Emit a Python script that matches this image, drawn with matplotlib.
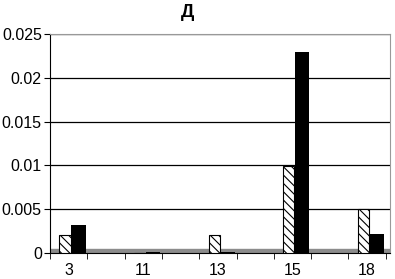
import matplotlib.pyplot as plt
import numpy as np

plt.rcParams['font.family'] = ['Liberation Sans', 'DejaVu Sans']
plt.rcParams['hatch.linewidth'] = 0.8

categories = ['3', '11', '13', '15', '18']
series_hatched = [0.0021, 0.0, 0.0021, 0.0099, 0.0050]
series_black = [0.0032, 0.0001, 0.0001, 0.0230, 0.0022]
y_ticks = [0, 0.005, 0.01, 0.015, 0.02, 0.025]
y_labels = ['0', '0.005', '0.01', '0.015', '0.02', '0.025']

fig = plt.figure(figsize=(3.95, 2.79), dpi=100)
ax = fig.add_axes([0.127, 0.093, 0.86, 0.785])

x = np.arange(len(categories))

# grey floor
ax.axhspan(0, 0.0005, color='#8c8c8c', zorder=1)

ax.bar(x - 0.05, series_hatched, width=0.15, facecolor='white', edgecolor='black',
       hatch='\\\\\\\\', linewidth=0.8, zorder=3)
ax.bar(x + 0.13, series_black, width=0.19, color='black', zorder=3)

ax.set_ylim(0, 0.025)
ax.set_xlim(-0.227, 4.307)
ax.set_yticks(y_ticks)
ax.set_yticklabels(y_labels, fontsize=11.5)
ax.set_xticks(x)
ax.set_xticklabels(categories, fontsize=11.5)
ax.tick_params(axis='x', length=0, pad=7)
ax.set_xticks(np.arange(-0.25, 4.5, 0.5), minor=True)
ax.tick_params(axis='x', which='minor', length=4, direction='out')
ax.tick_params(axis='y', length=4, direction='out', pad=2)

ax.yaxis.grid(True, color='black', linewidth=0.9, zorder=0)
ax.set_axisbelow(True)
ax.spines['top'].set_color('#999999')
ax.spines['right'].set_color('#999999')
ax.spines['left'].set_color('black')
ax.spines['bottom'].set_color('black')

fig.text(0.476, 0.955, 'Д', ha='center', va='center', fontsize=13.5, fontweight='bold')

fig.savefig('out.png', dpi=100)
